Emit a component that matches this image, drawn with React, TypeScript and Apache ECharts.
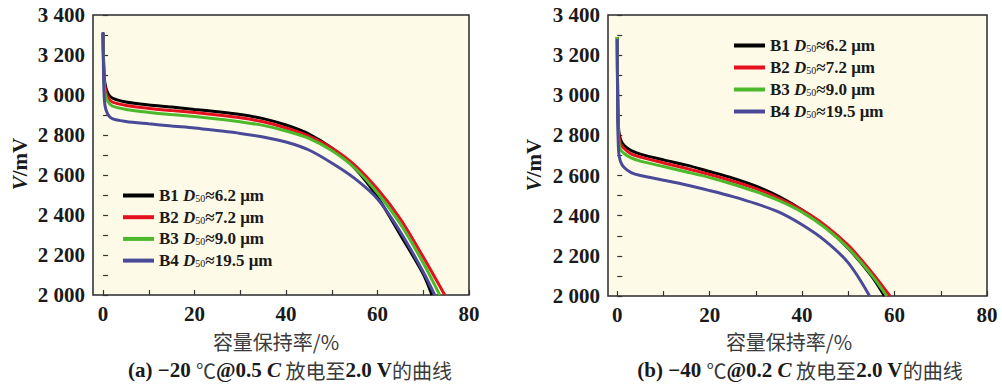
import React, { useEffect, useRef } from "react";
import * as echarts from "echarts";

// ---- data ----
const seriesNames = ["B1 D50≈6.2 μm", "B2 D50≈7.2 μm", "B3 D50≈9.0 μm", "B4 D50≈19.5 μm"];
const seriesColors = ["#000000", "#e3101e", "#4cb82c", "#4a4a98"];

// (a) -20 ℃ @ 0.5 C : [capacity retention %, voltage mV]
const a_B1 = [[0, 3310], [0.15, 3150], [0.4, 3060], [1, 3010], [2, 2985], [5, 2965], [10, 2950], [15, 2940], [20, 2928], [25, 2916], [30, 2902], [35, 2882], [40, 2850], [45, 2805], [50, 2735], [55, 2635], [60, 2490], [65, 2300], [70, 2105], [71.9, 2000]];
const a_B2 = [[0, 3310], [0.15, 3130], [0.4, 3040], [1, 2990], [2, 2965], [5, 2948], [10, 2933], [15, 2922], [20, 2912], [25, 2900], [30, 2886], [35, 2866], [40, 2835], [45, 2795], [50, 2735], [55, 2650], [60, 2530], [65, 2380], [70, 2190], [74.7, 2000]];
const a_B3 = [[0, 3310], [0.15, 3110], [0.4, 3010], [1, 2970], [2, 2945], [5, 2928], [10, 2913], [15, 2902], [20, 2892], [25, 2880], [30, 2866], [35, 2848], [40, 2820], [45, 2783], [50, 2722], [55, 2635], [60, 2510], [65, 2355], [70, 2160], [73.6, 2000]];
const a_B4 = [[0, 3315], [0.15, 3050], [0.4, 2950], [1, 2905], [2, 2882], [5, 2868], [10, 2856], [15, 2845], [20, 2835], [25, 2822], [30, 2808], [35, 2790], [40, 2765], [45, 2725], [50, 2660], [55, 2583], [60, 2480], [65, 2315], [70, 2115], [72.5, 2000]];

// (b) -40 ℃ @ 0.2 C
const b_B1 = [[0, 3290], [0.1, 3000], [0.3, 2830], [0.7, 2780], [1.5, 2750], [3, 2725], [5, 2707], [10, 2678], [15, 2652], [20, 2620], [25, 2587], [30, 2547], [35, 2495], [40, 2428], [45, 2345], [50, 2237], [55, 2100], [57.8, 2000]];
const b_B2 = [[0, 3290], [0.1, 2980], [0.3, 2810], [0.7, 2760], [1.5, 2735], [3, 2708], [5, 2692], [10, 2663], [15, 2635], [20, 2605], [25, 2572], [30, 2535], [35, 2487], [40, 2428], [45, 2352], [50, 2252], [55, 2120], [59, 2000]];
const b_B3 = [[0, 3290], [0.1, 2960], [0.3, 2780], [0.7, 2730], [1.5, 2710], [3, 2688], [5, 2672], [10, 2645], [15, 2618], [20, 2590], [25, 2557], [30, 2520], [35, 2475], [40, 2418], [45, 2340], [50, 2238], [55, 2105], [58.3, 2000]];
const b_B4 = [[0, 3280], [0.1, 2900], [0.3, 2720], [0.7, 2670], [1.5, 2640], [3, 2615], [5, 2600], [10, 2577], [15, 2553], [20, 2525], [25, 2495], [30, 2460], [35, 2418], [40, 2355], [45, 2275], [50, 2165], [54.6, 2000]];

const xLabelValues = [0, 20, 40, 60, 80];
const xTickValues = [0, 10, 20, 30, 40, 50, 60, 70, 80];
const yTickValues = [2000, 2100, 2200, 2300, 2400, 2500, 2600, 2700, 2800, 2900, 3000, 3100, 3200, 3300, 3400];

const xTitle = "容量保持率/%";
const captionA = ["(a) −20 ", "℃", "@0.5 ", "C", " 放电至", "2.0 V", "的曲线"];
const captionB = ["(b) −40 ", "℃", "@0.2 ", "C", " 放电至", "2.0 V", "的曲线"];

const SERIF = "'Liberation Serif', 'Times New Roman', serif";
const CJK = "'Noto Sans CJK SC', sans-serif";
const INK = "#1a1a1a";

function makeCaption(p: string[]) {
  return `{b|${p[0]}}{c|${p[1]}}{b|${p[2]}}{i|${p[3]}}{c|${p[4]}}{b|${p[5]}}{c|${p[6]}}`;
}

const captionRich = {
  b: { fontFamily: SERIF, fontWeight: "bold", fontSize: 21, fill: INK, lineHeight: 20 },
  i: { fontFamily: SERIF, fontWeight: "bold", fontStyle: "italic", fontSize: 21, fill: INK, lineHeight: 20 },
  c: { fontFamily: CJK, fontSize: 20, fill: "#3a3a3a", lineHeight: 20 },
};

const titleRich = {
  t: { fontFamily: CJK, fontSize: 20, fill: "#3a3a3a", lineHeight: 20 },
};

const legendRich = {
  b: { fontFamily: SERIF, fontWeight: "bold", fontSize: 17, color: INK, lineHeight: 16 },
  i: { fontFamily: SERIF, fontWeight: "bold", fontStyle: "italic", fontSize: 17, color: INK, lineHeight: 16 },
  s: { fontFamily: SERIF, fontSize: 10, color: INK, lineHeight: 11, verticalAlign: "bottom" },
};

function legendFormatter(n: string) {
  const m = n.match(/^(B\d) D50≈(.*)$/);
  if (!m) return n;
  return `{b|${m[1]} }{i|D}{s|50}{b|≈${m[2]}}`;
}

function yFmt(v: number) {
  const s = String(v);
  return s.length > 3 ? s.slice(0, -3) + " " + s.slice(-3) : s;
}

function makeX(gridIndex: number, min: number) {
  return {
    type: "value",
    gridIndex,
    min,
    max: 80,
    axisLine: { show: false },
    splitLine: { show: false },
    axisTick: { show: true, inside: true, length: 5, customValues: xTickValues, lineStyle: { color: "#333", width: 1.2 } },
    axisLabel: {
      customValues: xLabelValues,
      margin: 8,
      fontFamily: SERIF,
      fontWeight: "bold",
      fontSize: 21,
      color: INK,
    },
  };
}

function makeY(gridIndex: number) {
  return {
    type: "value",
    gridIndex,
    min: 2000,
    max: 3400,
    interval: 200,
    axisLine: { show: false },
    splitLine: { show: false },
    axisTick: { show: true, inside: true, length: 5, customValues: yTickValues, lineStyle: { color: "#333", width: 1.2 } },
    axisLabel: {
      margin: 8,
      formatter: yFmt,
      fontFamily: SERIF,
      fontWeight: "bold",
      fontSize: 21,
      color: INK,
    },
  };
}

const vRich = {
  i: { fontFamily: SERIF, fontWeight: "bold", fontStyle: "italic", fontSize: 21, fill: INK },
  b: { fontFamily: SERIF, fontWeight: "bold", fontSize: 21, fill: INK },
};

export default function App() {
  const ref = useRef<HTMLDivElement>(null);
  useEffect(() => {
    if (!ref.current) return;
    const chart = echarts.init(ref.current, null, { renderer: "svg" });
    const dataA = [a_B1, a_B2, a_B3, a_B4];
    const dataB = [b_B1, b_B2, b_B3, b_B4];
    const mk = (d: number[][], i: number, g: number) => ({
      type: "line",
      name: seriesNames[i],
      xAxisIndex: g,
      yAxisIndex: g,
      data: d,
      showSymbol: false,
      symbol: "none",
      smooth: 0.3,
      color: seriesColors[i],
      lineStyle: { width: 3, color: seriesColors[i] },
    });
    const legendBase = {
      data: seriesNames,
      orient: "vertical",
      icon: "rect",
      itemWidth: 31,
      itemHeight: 4,
      padding: 0,
      selectedMode: false,
      formatter: legendFormatter,
      textStyle: { rich: legendRich },
    };
    chart.setOption({
      animation: false,
      backgroundColor: "#ffffff",
      grid: [
        { left: 93, top: 15, width: 376, height: 280, show: true, backgroundColor: "#fdfbe8", borderColor: "#2a2a2a", borderWidth: 1.5 },
        { left: 608, top: 15, width: 379, height: 281, show: true, backgroundColor: "#fdfbe8", borderColor: "#2a2a2a", borderWidth: 1.5 },
      ],
      xAxis: [makeX(0, -2.2), makeX(1, -2)],
      yAxis: [makeY(0), makeY(1)],
      legend: [
        { ...legendBase, left: 123, top: 187, itemGap: 4.7 },
        { ...legendBase, left: 734, top: 37, itemGap: 5 },
      ],
      series: [
        ...dataA.map((d, i) => mk(d, i, 0)),
        ...dataB.map((d, i) => mk(d, i, 1)),
      ],
      graphic: [
        { type: "text", x: 20, y: 164, rotation: Math.PI / 2, style: { text: "{i|V}{b|/mV}", rich: vRich, align: "center", verticalAlign: "middle" } },
        { type: "text", x: 534, y: 165, rotation: Math.PI / 2, style: { text: "{i|V}{b|/mV}", rich: vRich, align: "center", verticalAlign: "middle" } },
        { type: "text", x: 276, y: 341, style: { text: `{t|${xTitle}}`, rich: titleRich, align: "center", verticalAlign: "middle" } },
        { type: "text", x: 789, y: 341, style: { text: `{t|${xTitle}}`, rich: titleRich, align: "center", verticalAlign: "middle" } },
        { type: "text", x: 290, y: 370, style: { text: makeCaption(captionA), rich: captionRich, align: "center", verticalAlign: "middle" } },
        { type: "text", x: 800, y: 370, style: { text: makeCaption(captionB), rich: captionRich, align: "center", verticalAlign: "middle" } },
      ],
    });
    return () => chart.dispose();
  }, []);
  return <div ref={ref} style={{ position: "fixed", left: 0, top: 0, width: 1002, height: 384 }} />;
}
